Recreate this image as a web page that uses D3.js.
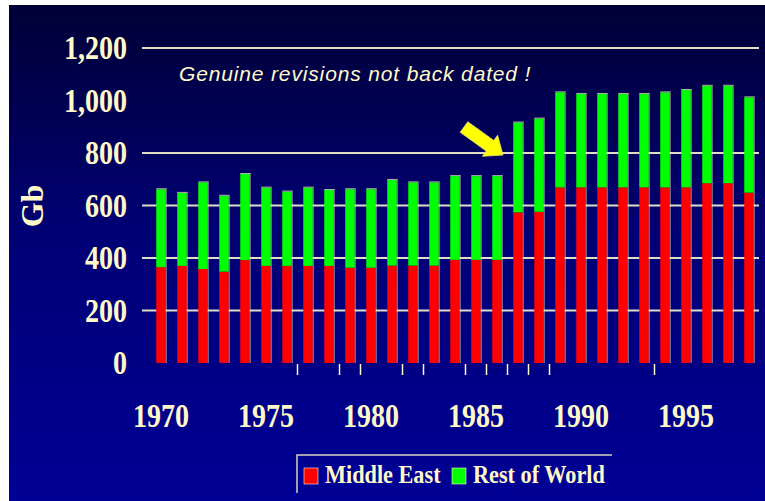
<!DOCTYPE html>
<html>
<head>
<meta charset="UTF-8">
<title>Middle East / Rest of World reserves</title>
<script src="https://d3js.org/d3.v7.min.js"></script>
<style>
  html, body { margin: 0; padding: 0; background: #fff; }
  svg { display: block; }
  .lbl { font-family: "Liberation Serif", "Times New Roman", serif; font-weight: bold; fill: #fff9c8; }
</style>
</head>
<body>
<svg id="chart" width="765" height="501"></svg>
<script>
// data (Gb)
const years = d3.range(1970, 1999);
const middleEast = [365, 370, 358, 348, 392, 370, 370, 370, 370, 363, 363,
                    371, 371, 371, 393, 393, 393, 574, 576, 669, 669, 669,
                    669, 669, 669, 669, 685, 685, 649];
const restOfWorld = [297, 278, 330, 289, 328, 298, 283, 298, 289, 299, 299,
                     326, 317, 317, 319, 319, 319, 342, 355, 362, 356, 356,
                     356, 356, 362, 371, 371, 371, 363];
const yTicks = [0, 200, 400, 600, 800, 1000, 1200];
const gridValues = [200, 400, 600, 800, 1200];
const xLabels = [1970, 1975, 1980, 1985, 1990, 1995];
const tickAfter = [1976, 1978, 1979, 1981, 1982, 1984, 1985, 1986, 1987, 1988, 1993];
const seriesNames = ["Middle East", "Rest of World"];
const colors = ["#ff0000", "#00ff00"];
const cream = "#fff9c8";

const svg = d3.select("#chart");

// background gradient
const defs = svg.append("defs");
const grad = defs.append("linearGradient").attr("id", "bg")
  .attr("x1", 0).attr("y1", 0).attr("x2", 0).attr("y2", 1);
grad.append("stop").attr("offset", "0%").attr("stop-color", "#000036");
grad.append("stop").attr("offset", "45%").attr("stop-color", "#000074");
grad.append("stop").attr("offset", "100%").attr("stop-color", "#000096");
svg.append("rect").attr("x", 9).attr("y", 5).attr("width", 756).attr("height", 496)
  .attr("fill", "url(#bg)");

const x = d3.scaleBand().domain(years).range([150.5, 759.5]).padding(0);
const y = d3.scaleLinear().domain([0, 1200]).range([363, 48]);
const barW = 9.5;
const cx = d => x(d) + x.bandwidth() / 2;

// gridlines
svg.append("g").selectAll("line").data(gridValues).join("line")
  .attr("x1", 142).attr("x2", 759)
  .attr("y1", d => y(d)).attr("y2", d => y(d))
  .attr("stroke", "#e2dcc4").attr("stroke-width", 2);

// y labels
svg.append("g").selectAll("text").data(yTicks).join("text")
  .attr("class", "lbl")
  .attr("transform", d => `translate(127,${y(d) + 11}) scale(0.85,1)`)
  .attr("text-anchor", "end")
  .style("font-size", "33px")
  .text(d => d3.format(",")(d));

// y title
svg.append("text").attr("class", "lbl")
  .attr("transform", "translate(43,206) rotate(-90)")
  .attr("text-anchor", "middle")
  .style("font-size", "32px")
  .text("Gb");

// stacked bars
const rows = years.map((yr, i) => ({ year: yr, me: middleEast[i], row: restOfWorld[i] }));
const stack = d3.stack().keys(["me", "row"])(rows);

const bars = svg.append("g");
stack.forEach((layer, li) => {
  bars.append("g").selectAll("rect").data(layer).join("rect")
    .attr("x", d => cx(d.data.year) - barW / 2)
    .attr("width", barW)
    .attr("y", d => y(d[1]))
    .attr("height", d => y(d[0]) - y(d[1]))
    .attr("fill", colors[li]);
});
// light edge on each bar
bars.append("g").selectAll("line").data(rows).join("line")
  .attr("x1", d => cx(d.year) + barW / 2 + 0.5)
  .attr("x2", d => cx(d.year) + barW / 2 + 0.5)
  .attr("y1", d => y(d.me + d.row))
  .attr("y2", y(0))
  .attr("stroke", cream).attr("stroke-opacity", 0.55).attr("stroke-width", 1);
bars.append("g").selectAll("line").data(rows).join("line")
  .attr("x1", d => cx(d.year) - barW / 2)
  .attr("x2", d => cx(d.year) + barW / 2 + 1)
  .attr("y1", d => y(d.me + d.row) - 0.5)
  .attr("y2", d => y(d.me + d.row) - 0.5)
  .attr("stroke", cream).attr("stroke-opacity", 0.7).attr("stroke-width", 1);

// small tick marks under the baseline
svg.append("g").selectAll("line").data(tickAfter).join("line")
  .attr("x1", d => x(d) + x.bandwidth())
  .attr("x2", d => x(d) + x.bandwidth())
  .attr("y1", y(0) + 1).attr("y2", y(0) + 12)
  .attr("stroke", cream).attr("stroke-width", 1.5);

// x labels
svg.append("g").selectAll("text").data(xLabels).join("text")
  .attr("class", "lbl")
  .attr("transform", d => `translate(${cx(d)},427) scale(0.85,1)`)
  .attr("text-anchor", "middle")
  .style("font-size", "33px")
  .text(d => d);

// annotation
svg.append("text")
  .attr("x", 179).attr("y", 81)
  .attr("fill", cream)
  .style("font-family", "'Liberation Sans', Arial, sans-serif")
  .style("font-style", "italic")
  .style("font-size", "21px")
  .style("letter-spacing", "0.85px")
  .text("Genuine revisions not back dated !");

// arrow
const tip = [cx(1987) - 15, y(792)];
const tail = [cx(1985) - 12, y(899)];
const dx = tip[0] - tail[0], dy = tip[1] - tail[1];
const len = Math.hypot(dx, dy);
const ux = dx / len, uy = dy / len, px = -uy, py = ux;
const sw = 6.5, hw = 13, hl = 16;
const bx = tip[0] - ux * hl, by = tip[1] - uy * hl;
const pts = [
  [tail[0] + px * sw, tail[1] + py * sw],
  [bx + px * sw, by + py * sw],
  [bx + px * hw, by + py * hw],
  tip,
  [bx - px * hw, by - py * hw],
  [bx - px * sw, by - py * sw],
  [tail[0] - px * sw, tail[1] - py * sw]
];
svg.append("polygon")
  .attr("points", pts.map(p => p.join(",")).join(" "))
  .attr("fill", "#ffff00")
  .attr("stroke", "#e8e070").attr("stroke-width", 0.8);

// legend
const lg = svg.append("g");
lg.append("path").attr("d", "M297,493 V455 H612")
  .attr("fill", "none").attr("stroke", "#d8d2bc").attr("stroke-width", 1.5);
const legendX = [304, 452];
seriesNames.forEach((name, i) => {
  lg.append("rect").attr("x", legendX[i]).attr("y", 468).attr("width", 14).attr("height", 16)
    .attr("fill", colors[i]).attr("stroke", cream).attr("stroke-width", 0.6);
  lg.append("text").attr("class", "lbl")
    .attr("transform", `translate(${legendX[i] + 21},483) scale(0.89,1)`)
    .style("font-size", "25px")
    .text(name);
});
</script>
</body>
</html>
